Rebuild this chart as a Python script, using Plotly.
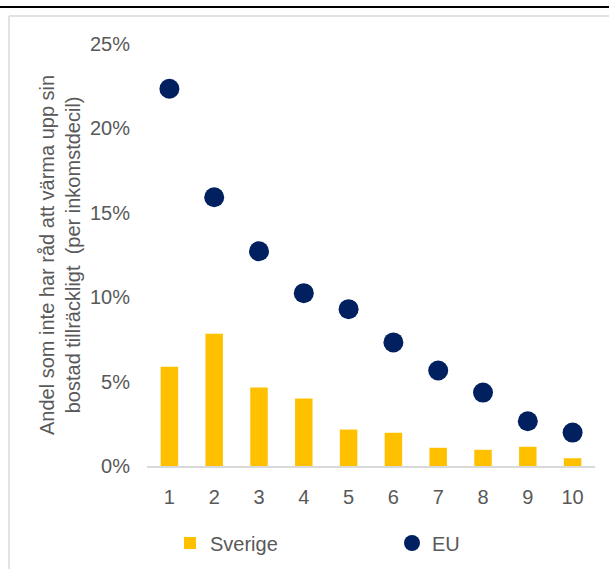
import plotly.graph_objects as go

deciles = ["1", "2", "3", "4", "5", "6", "7", "8", "9", "10"]
sverige = [5.88, 7.83, 4.65, 4.00, 2.16, 1.97, 1.08, 0.96, 1.14, 0.46]
eu = [22.35, 15.92, 12.72, 10.24, 9.29, 7.32, 5.66, 4.35, 2.65, 1.98]
y_ticks = [0, 5, 10, 15, 20, 25]
y_ticklabels = ["0%", "5%", "10%", "15%", "20%", "25%"]
y_title = "Andel som inte har råd att värma upp sin<br>bostad tillräckligt  (per inkomstdecil)"

FONT = "Liberation Sans, Arial, sans-serif"
GREY = "#595959"

W, H = 609, 569
L, R, T, B = 147, 14, 44, 103
pw, ph = W - L - R, H - T - B

def px_x(x):
    return (x - L) / pw

def px_y(y):
    return (H - B - y) / ph

fig = go.Figure()
fig.add_trace(go.Bar(
    x=deciles, y=sverige, name="Sverige",
    marker=dict(color="#FFC000", line=dict(width=0)),
    width=0.39,
))
fig.add_trace(go.Scatter(
    x=deciles, y=eu, name="EU", mode="markers",
    marker=dict(color="#002060", size=20, line=dict(width=0)),
))

fig.update_layout(
    width=W, height=H,
    margin=dict(l=L, r=R, t=T, b=B, autoexpand=False),
    paper_bgcolor="white", plot_bgcolor="white",
    font=dict(family=FONT, size=20, color=GREY),
    showlegend=True,
    legend=dict(
        orientation="h", x=px_x(170), xanchor="left",
        y=px_y(543), yanchor="middle",
        entrywidth=177, entrywidthmode="pixels",
        font=dict(family=FONT, size=20, color=GREY),
        bgcolor="rgba(0,0,0,0)",
    ),
    xaxis=dict(
        type="category", range=[-0.5, 9.5],
        showgrid=False, showline=True, linecolor="#d9d9d9", linewidth=2,
        ticks="", tickfont=dict(family=FONT, size=20, color=GREY),
        ticklabelstandoff=12, zeroline=False, fixedrange=True,
    ),
    yaxis=dict(
        range=[0, 25], tickvals=y_ticks, ticktext=y_ticklabels,
        showgrid=False, showline=False, zeroline=False, ticks="",
        tickfont=dict(family=FONT, size=20, color=GREY),
        ticklabelstandoff=16, fixedrange=True,
    ),
    bargap=0.61,
)

fig.add_annotation(
    text=y_title, textangle=-90, showarrow=False,
    xref="paper", yref="paper", x=px_x(60), y=0.5,
    xanchor="center", yanchor="middle",
    font=dict(family=FONT, size=20, color=GREY),
)

# frame: black top line, grey inner border
fig.add_shape(type="line", xref="paper", yref="paper",
              x0=px_x(0), x1=px_x(609), y0=px_y(7), y1=px_y(7),
              line=dict(color="black", width=2))
fig.add_shape(type="line", xref="paper", yref="paper",
              x0=px_x(9), x1=px_x(609), y0=px_y(16), y1=px_y(16),
              line=dict(color="#d9d9d9", width=1.5))
fig.add_shape(type="line", xref="paper", yref="paper",
              x0=px_x(9), x1=px_x(9), y0=px_y(16), y1=px_y(569),
              line=dict(color="#d9d9d9", width=1.5))

fig.write_html("out.html")
